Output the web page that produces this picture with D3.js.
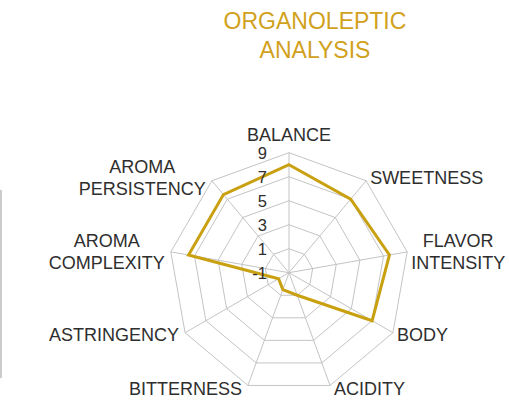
<!DOCTYPE html>
<html>
<head>
<meta charset="utf-8">
<script src="https://cdn.jsdelivr.net/npm/d3@7"></script>
<style>
  html, body { margin: 0; padding: 0; background: #fff; }
  svg { display: block; font-family: "Liberation Sans", Arial, sans-serif; }
</style>
</head>
<body>
<svg id="chart" width="509" height="406"></svg>
<script>
const axisLabels = [
  ["BALANCE"], ["SWEETNESS"], ["FLAVOR", "INTENSITY"], ["BODY"], ["ACIDITY"],
  ["BITTERNESS"], ["ASTRINGENCY"], ["AROMA", "COMPLEXITY"], ["AROMA", "PERSISTENCY"]
];
const scores = [8, 7, 7.5, 7, 1, 0.5, 0, 7.5, 7.5];
const tickValues = [-1, 1, 3, 5, 7, 9];
const titleLines = ["ORGANOLEPTIC", "ANALYSIS"];

const gold = "#c9a010";
const gridColor = "#c4c4c4";
const textColor = "#2e2e2e";

const cx = 289, cy = 272.7;
const svg = d3.select("#chart");

// left decoration rule
svg.append("line")
  .attr("x1", 1).attr("x2", 1).attr("y1", 190).attr("y2", 378)
  .attr("stroke", "#b0b0b0").attr("stroke-width", 1.3);

// title
svg.append("text")
  .attr("text-anchor", "middle")
  .attr("fill", "#d1a11c")
  .attr("font-size", 23)
  .selectAll("tspan")
  .data(titleLines)
  .join("tspan")
  .attr("x", 315)
  .attr("y", (d, i) => 29.3 + i * 28.7)
  .text(d => d);

const r = d3.scaleLinear().domain([-1, 9]).range([0, 120]);
const angle = d3.scaleLinear().domain([0, axisLabels.length]).range([0, 2 * Math.PI]);
const pt = (i, v) => [cx + r(v) * Math.sin(angle(i)), cy - r(v) * Math.cos(angle(i))];

const g = svg.append("g");

// rings
const ringLine = d3.line().curve(d3.curveLinearClosed);
g.selectAll("path.ring")
  .data(tickValues.slice(1))
  .join("path")
  .attr("class", "ring")
  .attr("d", v => ringLine(axisLabels.map((_, i) => pt(i, v))))
  .attr("fill", "none")
  .attr("stroke", gridColor)
  .attr("stroke-width", 1);

// spokes
g.selectAll("line.spoke")
  .data(axisLabels)
  .join("line")
  .attr("class", "spoke")
  .attr("x1", cx).attr("y1", cy)
  .attr("x2", (d, i) => pt(i, 9)[0])
  .attr("y2", (d, i) => pt(i, 9)[1])
  .attr("stroke", gridColor)
  .attr("stroke-width", 1);

// data polygon
g.append("path")
  .attr("d", ringLine(scores.map((v, i) => pt(i, v))))
  .attr("fill", "none")
  .attr("stroke", gold)
  .attr("stroke-width", 3)
  .attr("stroke-linejoin", "miter");

// tick labels
g.selectAll("text.tick")
  .data(tickValues)
  .join("text")
  .attr("class", "tick")
  .attr("x", cx - 22)
  .attr("y", v => cy - r(v) + 6)
  .attr("text-anchor", "end")
  .attr("font-size", 16.5)
  .attr("fill", textColor)
  .text(v => v);

// axis labels
const lineH = 22, capH = 13.3;
axisLabels.forEach((lines, i) => {
  const [vx, vy] = pt(i, 9);
  const s = Math.sin(angle(i)), c = Math.cos(angle(i));
  const t = g.append("text")
    .attr("font-size", 18)
    .attr("fill", textColor)
    .attr("text-anchor", "middle");
  const spans = t.selectAll("tspan").data(lines).join("tspan").text(d => d);
  const maxW = d3.max(spans.nodes(), n => n.getComputedTextLength());
  let xc;
  if (Math.abs(s) < 0.01) xc = vx;
  else if (s > 0) xc = vx + 4 + maxW / 2;
  else xc = vx - 6 - maxW / 2;
  let y0;
  if (c > 0.99) y0 = vy - 12 - (lines.length - 1) * lineH;
  else if (c < -0.9) y0 = vy - 4 + capH;
  else y0 = vy - 4 * c - (lines.length - 1) * lineH / 2 + capH / 2;
  spans.attr("x", xc).attr("y", (d, k) => y0 + k * lineH);
});
</script>
</body>
</html>
